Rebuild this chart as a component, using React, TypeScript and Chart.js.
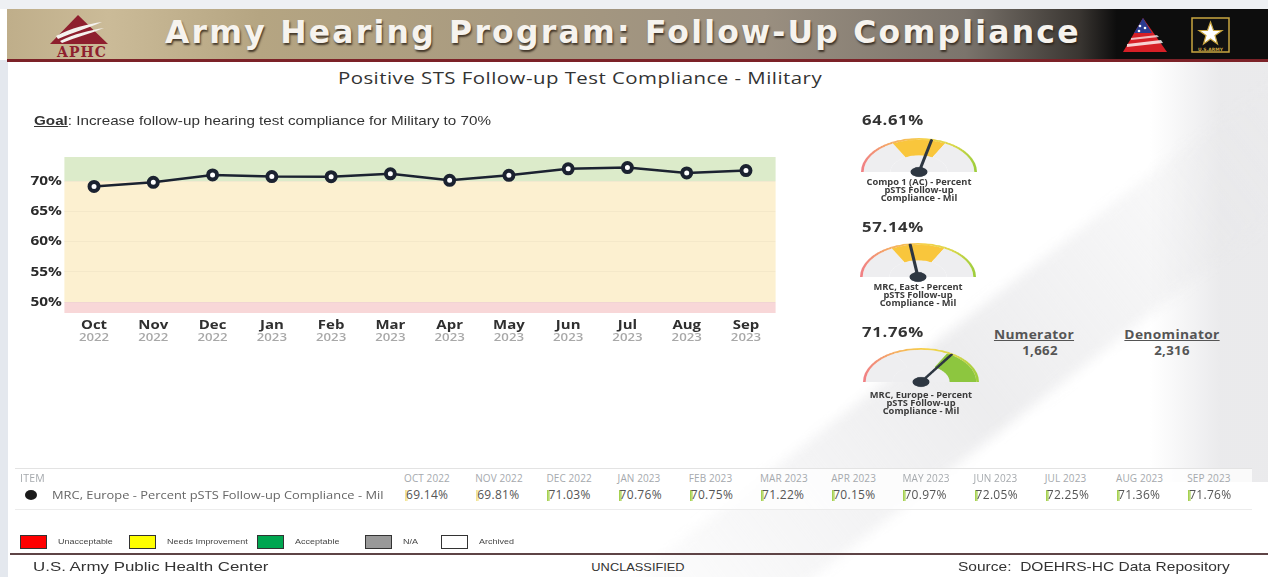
import React, { useEffect, useRef } from 'react';
import { Chart, registerables } from 'chart.js';
Chart.register(...registerables);

// ---------- data ----------
const months = ['Oct', 'Nov', 'Dec', 'Jan', 'Feb', 'Mar', 'Apr', 'May', 'Jun', 'Jul', 'Aug', 'Sep'];
const years = ['2022', '2022', '2022', '2023', '2023', '2023', '2023', '2023', '2023', '2023', '2023', '2023'];
const compliance = [69.14, 69.81, 71.03, 70.76, 70.75, 71.22, 70.15, 70.97, 72.05, 72.25, 71.36, 71.76];
const yTickValues = [50, 55, 60, 65, 70];
const yMin = 48.2;
const yMax = 74;
const goalLevel = 70;
const unacceptableLevel = 50;

const tableHeaders = ['OCT 2022', 'NOV 2022', 'DEC 2022', 'JAN 2023', 'FEB 2023', 'MAR 2023', 'APR 2023', 'MAY 2023', 'JUN 2023', 'JUL 2023', 'AUG 2023', 'SEP 2023'];
const tableItem = 'MRC, Europe - Percent pSTS Follow-up Compliance - Mil';

const gaugeValues = [64.61, 57.14, 71.76];
const gaugeLabels = [
  ['Compo 1 (AC) - Percent', 'pSTS Follow-up', 'Compliance - Mil'],
  ['MRC, East - Percent', 'pSTS Follow-up', 'Compliance - Mil'],
  ['MRC, Europe - Percent', 'pSTS Follow-up', 'Compliance - Mil'],
];
const gaugeBandEdges = [28, 50, 70, 92];
const numerator = '1,662';
const denominator = '2,316';

const legendLabels = ['Unacceptable', 'Needs Improvement', 'Acceptable', 'N/A', 'Archived'];
const legendColors = ['#ff0000', '#ffff00', '#00a650', '#999999', '#ffffff'];

const FONT = "'Open Sans', 'Noto Sans', sans-serif";
const ARIAL = "'Liberation Sans', Arial, sans-serif";
const SX = 1.2; // horizontal stretch of the original slide

// stretched text helper
function T({
  x,
  y,
  sx = SX,
  align = 'left',
  style,
  children,
}: {
  x: number;
  y: number;
  sx?: number;
  align?: 'left' | 'center' | 'right';
  style?: React.CSSProperties;
  children: React.ReactNode;
}) {
  const tx = align === 'left' ? '0' : align === 'center' ? '-50%' : '-100%';
  return (
    <div
      style={{
        position: 'absolute',
        left: x,
        top: y,
        whiteSpace: 'nowrap',
        transform: `translateX(${tx}) scaleX(${sx})`,
        transformOrigin: align === 'left' ? 'left top' : align === 'center' ? 'center top' : 'right top',
        ...style,
      }}
    >
      {children}
    </div>
  );
}

// ---------- main line chart ----------
function LineChart() {
  const ref = useRef<HTMLCanvasElement>(null);
  useEffect(() => {
    const bands = {
      id: 'bands',
      beforeDraw(chart: any) {
        const { ctx, chartArea: a, scales } = chart;
        const y = scales.y;
        const yg = y.getPixelForValue(goalLevel);
        const yu = y.getPixelForValue(unacceptableLevel);
        ctx.save();
        ctx.fillStyle = '#dcebca';
        ctx.fillRect(a.left, a.top, a.right - a.left, yg - a.top);
        ctx.fillStyle = '#fcf0d0';
        ctx.fillRect(a.left, yg, a.right - a.left, yu - yg);
        ctx.fillStyle = '#f8d7d8';
        ctx.fillRect(a.left, yu, a.right - a.left, a.bottom - yu);
        ctx.restore();
      },
    };
    const axisLabels = {
      id: 'axisLabels',
      afterDraw(chart: any) {
        const { ctx, chartArea: a, scales } = chart;
        const x = scales.x;
        const y = scales.y;
        ctx.save();
        ctx.textBaseline = 'middle';
        ctx.textAlign = 'center';
        months.forEach((m, i) => {
          const px = x.getPixelForValue(i);
          ctx.save();
          ctx.translate(px, a.bottom + 12.5);
          ctx.scale(1.15, 1);
          ctx.font = `bold 13px ${FONT}`;
          ctx.fillStyle = '#2f2f2f';
          ctx.fillText(m, 0, 0);
          ctx.restore();
          ctx.save();
          ctx.translate(px, a.bottom + 24.5);
          ctx.scale(1.2, 1);
          ctx.font = `600 11px ${FONT}`;
          ctx.fillStyle = '#a8a8a8';
          ctx.fillText(years[i], 0, 0);
          ctx.restore();
        });
        ctx.textAlign = 'right';
        yTickValues.forEach((v) => {
          const py = y.getPixelForValue(v);
          ctx.save();
          ctx.translate(a.left - 2.5, py);
          ctx.scale(1.18, 1);
          ctx.font = `bold 13px ${FONT}`;
          ctx.fillStyle = '#2a2a2a';
          ctx.fillText(v + '%', 0, 0);
          ctx.restore();
        });
        ctx.restore();
      },
    };
    const chart = new Chart(ref.current as HTMLCanvasElement, {
      type: 'line',
      data: {
        labels: months,
        datasets: [
          {
            data: compliance,
            borderColor: '#1b2230',
            borderWidth: 2.5,
            pointRadius: 4.5,
            pointBorderWidth: 4,
            pointBackgroundColor: '#ffffff',
            pointBorderColor: '#1b2230',
            tension: 0,
          },
        ],
      },
      options: {
        animation: false,
        responsive: true,
        maintainAspectRatio: false,
        layout: { padding: { top: 12, right: 24.4, bottom: 37, left: 0 } },
        plugins: { legend: { display: false }, tooltip: { enabled: false } },
        scales: {
          x: {
            display: false,
            offset: true,
          },
          y: {
            min: yMin,
            max: yMax,
            afterBuildTicks: (s: any) => {
              s.ticks = yTickValues.map((v) => ({ value: v }));
            },
            afterFit: (s: any) => {
              s.width = 44.4;
            },
            grid: { color: 'rgba(0,0,0,0.03)', drawTicks: false },
            border: { display: false },
            ticks: { display: false },
          },
        },
      },
      plugins: [bands, axisLabels],
    } as any);
    return () => chart.destroy();
  }, []);
  return (
    <div style={{ position: 'absolute', left: 20, top: 145, width: 780, height: 205 }}>
      <canvas ref={ref} />
    </div>
  );
}

// ---------- gauge ----------
function Gauge({ value, left, top }: { value: number; left: number; top: number }) {
  const ref = useRef<HTMLCanvasElement>(null);
  useEffect(() => {
    const spans = gaugeBandEdges.slice(1).map((e, i) => e - gaugeBandEdges[i]);
    const bandIndex = spans.findIndex((_, i) => value < gaugeBandEdges[i + 1]);
    const fillColors = ['#f3a3a3', '#f9c63c', '#8dc63f'];
    const bg = '#eeeef0';
    const needle = {
      id: 'needle',
      afterDatasetsDraw(chart: any) {
        const arc = chart.getDatasetMeta(0).data[0];
        const cx = arc.x;
        const cy = arc.y;
        const R = arc.outerRadius;
        const f = (value - gaugeBandEdges[0]) / (gaugeBandEdges[3] - gaugeBandEdges[0]);
        const ang = Math.PI + f * Math.PI;
        const { ctx } = chart;
        ctx.save();
        ctx.strokeStyle = '#2e3742';
        ctx.lineWidth = 3.2;
        ctx.lineCap = 'round';
        ctx.beginPath();
        ctx.moveTo(cx, cy);
        ctx.lineTo(cx + Math.cos(ang) * R * 0.96, cy + Math.sin(ang) * R * 0.96);
        ctx.stroke();
        ctx.fillStyle = '#2e3742';
        ctx.beginPath();
        ctx.arc(cx, cy, 8.5, 0, Math.PI * 2);
        ctx.fill();
        ctx.restore();
      },
    };
    const chart = new Chart(ref.current as HTMLCanvasElement, {
      type: 'doughnut',
      data: {
        labels: ['low', 'mid', 'high'],
        datasets: [
          {
            data: spans,
            weight: 1.4,
            borderWidth: 0,
            backgroundColor: (c: any) => {
              const a = c.chart.chartArea;
              if (!a) return '#ccc';
              const g = c.chart.ctx.createLinearGradient(a.left, 0, a.right, 0);
              g.addColorStop(0, '#f07f86');
              g.addColorStop(0.3, '#f5b25e');
              g.addColorStop(0.55, '#f6d24a');
              g.addColorStop(0.8, '#d8d74a');
              g.addColorStop(1, '#9bcd3c');
              return g;
            },
          },
          {
            data: spans,
            weight: 14,
            borderWidth: 0,
            backgroundColor: spans.map((_, i) => (i === bandIndex ? fillColors[i] : bg)),
          },
          {
            data: [1],
            weight: 15,
            borderWidth: 0,
            backgroundColor: [bg],
          },
        ],
      },
      options: {
        animation: false,
        responsive: true,
        maintainAspectRatio: false,
        circumference: 180,
        rotation: -90,
        cutout: 0,
        layout: { padding: { bottom: 10 } },
        plugins: { legend: { display: false }, tooltip: { enabled: false } },
      },
      plugins: [needle],
    } as any);
    return () => chart.destroy();
  }, [value]);
  return (
    <div
      style={{
        position: 'absolute',
        left,
        top,
        width: 116,
        height: 68,
        transform: 'scaleY(0.586)',
        transformOrigin: 'top left',
      }}
    >
      <canvas ref={ref} />
    </div>
  );
}

// ---------- logos ----------
function AphcLogo() {
  return (
    <svg style={{ position: 'absolute', left: 36, top: 12 }} width="92" height="48" viewBox="0 0 92 48">
      <polygon points="42,3 14,32 72,32" fill="#8e1f2e" />
      <path d="M20,24 C35,16 52,12 66,10 C52,16 38,20 22,27 Z" fill="#f4f1ee" />
      <path d="M24,29 C38,22 54,18 68,16 C54,22 40,25 26,31 Z" fill="#f4f1ee" />
      <text x="46" y="45" textAnchor="middle" fontFamily="'DejaVu Serif', serif" fontWeight="bold" fontSize="14" fill="#8e1f2e" letterSpacing="1">
        APHC
      </text>
    </svg>
  );
}

function RightLogos() {
  return (
    <svg style={{ position: 'absolute', left: 1115, top: 14 }} width="125" height="44" viewBox="0 0 125 44">
      <polygon points="28,4 8,38 52,38" fill="#d61f26" />
      <polygon points="28,4 19,19 37,19" fill="#2b3c8f" />
      <circle cx="25" cy="12" r="1.3" fill="#fff" />
      <circle cx="30" cy="14" r="1.3" fill="#fff" />
      <circle cx="24" cy="17" r="1.3" fill="#fff" />
      <path d="M12,30 L46,26 L48,29 L12,33 Z" fill="#fff" opacity="0.8" />
      <path d="M16,24 L42,21 L44,23 L16,26 Z" fill="#fff" opacity="0.7" />
      <rect x="77" y="4" width="37" height="34" fill="#111" stroke="#c9a640" strokeWidth="1.5" />
      <polygon points="95.5,8 98.5,16.5 107,16.5 100,21.5 102.5,30 95.5,25 88.5,30 91,21.5 84,16.5 92.5,16.5" fill="#fff" stroke="#c9a640" strokeWidth="1.2" />
      <text x="95.5" y="36.5" textAnchor="middle" fontFamily="'DejaVu Sans', sans-serif" fontWeight="bold" fontSize="4.5" fill="#c9a640">
        U.S.ARMY
      </text>
    </svg>
  );
}

// ---------- app ----------
export default function App() {
  const colLeft = (i: number) => 404 + i * 71.2;
  return (
    <div
      style={{
        position: 'absolute',
        left: 0,
        top: 0,
        width: 1268,
        height: 577,
        overflow: 'hidden',
        background: '#ffffff',
        fontFamily: FONT,
      }}
    >
      {/* background decorations */}
      <div style={{ position: 'absolute', left: 0, top: 0, width: 1268, height: 9, background: '#eef0f3' }} />
      <div style={{ position: 'absolute', left: 0, top: 60, width: 8, height: 517, background: '#e4e8ee' }} />
      <div
        style={{
          position: 'absolute',
          left: 1150,
          top: 62,
          width: 118,
          height: 420,
          background: 'linear-gradient(90deg, rgba(240,240,240,0) 0%, rgba(232,232,234,0.9) 60%)',
        }}
      />
      <div
        style={{
          position: 'absolute',
          left: 520,
          top: 330,
          width: 900,
          height: 110,
          background: 'linear-gradient(90deg, rgba(236,236,238,0) 0%, rgba(232,232,234,0.8) 50%, rgba(236,236,238,0) 100%)',
          transform: 'rotate(-38deg)',
          filter: 'blur(6px)',
        }}
      />

      {/* header */}
      <div
        style={{
          position: 'absolute',
          left: 7,
          top: 9,
          width: 1261,
          height: 50,
          background:
            'linear-gradient(90deg, #bfae8a 0%, #cbbb98 8%, #b5a582 20%, #a89a80 40%, #9a8f80 60%, #7b746c 76%, #3a3632 85%, #0d0d0d 88%, #0d0d0d 100%)',
          borderBottom: '3px solid #7c2228',
        }}
      />
      <AphcLogo />
      <RightLogos />
      <T
        x={165}
        y={14}
        sx={1.0}
        style={{
          fontFamily: "'DejaVu Sans', sans-serif",
          fontWeight: 'bold',
          fontSize: 31.5,
          color: '#f6f3ee',
          textShadow: '1px 2px 2px rgba(40,30,20,0.8)',
          letterSpacing: 2.2,
        }}
      >
        Army Hearing Program: Follow-Up Compliance
      </T>

      {/* subtitle */}
      <T x={580} y={66} align="center" style={{ fontSize: 17, color: '#333', letterSpacing: 0.4 }}>
        Positive STS Follow-up Test Compliance - Military
      </T>

      {/* goal */}
      <T x={34} y={114} sx={1.2} style={{ fontFamily: ARIAL, fontSize: 12.7, color: '#333' }}>
        <span style={{ textDecoration: 'underline', fontWeight: 'bold' }}>Goal</span>: Increase follow-up hearing test compliance for Military to 70%
      </T>

      <LineChart />

      {/* gauges */}
      {gaugeValues.map((v, gi) => {
        const tops = [138, 243, 348];
        const lefts = [861, 860, 863];
        const valueTops = [110, 217, 322];
        const labelTops = [178, 283, 391];
        return (
          <React.Fragment key={gi}>
            <T x={862} y={valueTops[gi]} sx={1.15} style={{ fontWeight: 'bold', fontSize: 14.5, color: '#333', letterSpacing: 0.6 }}>
              {v.toFixed(2)}%
            </T>
            <Gauge value={v} left={lefts[gi]} top={tops[gi]} />
            <T
              x={lefts[gi] + 58}
              y={labelTops[gi]}
              align="center"
              sx={1.12}
              style={{ textAlign: 'center', fontWeight: 'bold', fontSize: 8.3, lineHeight: '7.9px', color: '#3b3b3b' }}
            >
              {gaugeLabels[gi].map((l, li) => (
                <div key={li}>{l}</div>
              ))}
            </T>
          </React.Fragment>
        );
      })}

      {/* numerator / denominator */}
      {[
        ['Numerator', numerator, 1034, 1040],
        ['Denominator', denominator, 1172, 1172],
      ].map(([h, val, cx, vx], i) => (
        <React.Fragment key={i}>
          <T
            x={cx as number}
            y={326}
            align="center"
            sx={1.1}
            style={{ fontWeight: 'bold', fontSize: 12.5, color: '#555', textDecoration: 'underline', letterSpacing: 0.3 }}
          >
            {h}
          </T>
          <T x={vx as number} y={342} align="center" sx={1.1} style={{ fontWeight: 'bold', fontSize: 12, color: '#555', letterSpacing: 0.3 }}>
            {val}
          </T>
        </React.Fragment>
      ))}

      {/* table */}
      <div
        style={{
          position: 'absolute',
          left: 15,
          top: 468,
          width: 1237,
          height: 40,
          background: 'rgba(255,255,255,0.75)',
          borderTop: '1px solid #e3e3e3',
          borderBottom: '1px solid #ececec',
        }}
      />
      <T x={20} y={471} sx={1.05} style={{ fontSize: 10, color: '#a5a9ad', letterSpacing: 0.2 }}>
        ITEM
      </T>
      <div
        style={{
          position: 'absolute',
          left: 25,
          top: 490,
          width: 12,
          height: 10,
          borderRadius: '50%',
          background: '#1a1a1a',
        }}
      />
      <T x={52} y={486.5} sx={1.17} style={{ fontSize: 11, color: '#666' }}>
        {tableItem}
      </T>
      {tableHeaders.map((h, i) => (
        <React.Fragment key={i}>
          <T x={colLeft(i)} y={471} sx={1.0} style={{ fontSize: 10, color: '#a5a9ad', letterSpacing: 0.1 }}>
            {h}
          </T>
          <div
            style={{
              position: 'absolute',
              left: colLeft(i) + 1,
              top: 490,
              width: 3,
              height: 11,
              background:
                compliance[i] >= goalLevel ? 'linear-gradient(90deg,#9ccc3c,#d6eab0)' : 'linear-gradient(90deg,#f0e08a,#faf3c8)',
            }}
          />
          <T x={colLeft(i) + 2} y={486} sx={1.0} style={{ fontSize: 12, color: '#555', letterSpacing: 0.3 }}>
            {compliance[i].toFixed(2)}%
          </T>
        </React.Fragment>
      ))}

      {/* legend */}
      {legendLabels.map((l, i) => {
        const boxLefts = [20, 129, 257, 365, 441];
        return (
          <React.Fragment key={i}>
            <div
              style={{
                position: 'absolute',
                left: boxLefts[i],
                top: 535,
                width: 27,
                height: 14,
                background: legendColors[i],
                border: '1px solid #333',
                boxSizing: 'border-box',
              }}
            />
            <T x={boxLefts[i] + 38} y={537.5} sx={1.38} style={{ fontFamily: ARIAL, fontSize: 6.5, color: '#444' }}>
              {l}
            </T>
          </React.Fragment>
        );
      })}

      {/* footer */}
      <div style={{ position: 'absolute', left: 10, top: 553, width: 1258, height: 2, background: '#5e4446' }} />
      <T x={33} y={559} sx={1.25} style={{ fontFamily: ARIAL, fontSize: 13.5, color: '#333' }}>
        U.S. Army Public Health Center
      </T>
      <T x={638} y={561} align="center" sx={1.22} style={{ fontFamily: ARIAL, fontSize: 10.5, color: '#333' }}>
        UNCLASSIFIED
      </T>
      <T x={958} y={559} sx={1.15} style={{ fontFamily: ARIAL, fontSize: 13.5, color: '#333' }}>
        Source:&nbsp; DOEHRS-HC Data Repository
      </T>
    </div>
  );
}
